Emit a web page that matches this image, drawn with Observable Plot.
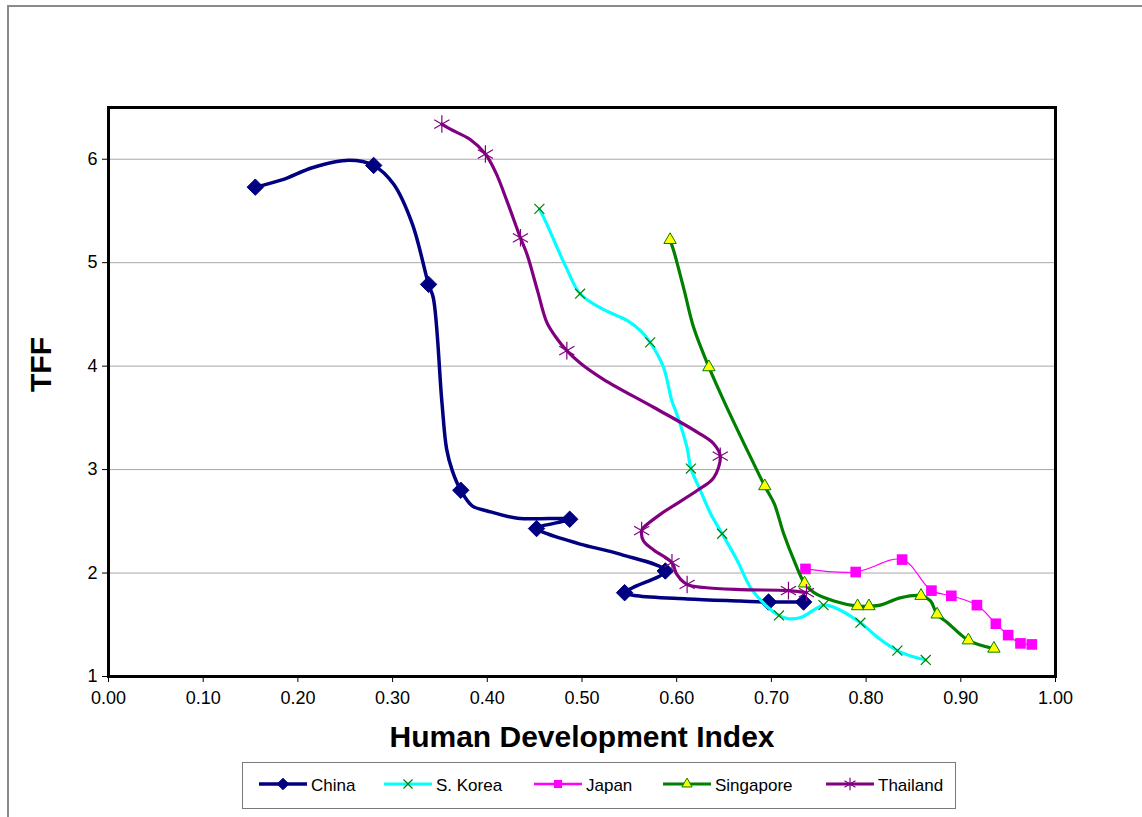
<!DOCTYPE html>
<html>
<head>
<meta charset="utf-8">
<script src="https://cdn.jsdelivr.net/npm/d3@7"></script>
<script src="https://cdn.jsdelivr.net/npm/@observablehq/plot@0.6"></script>
<style>
  html, body { margin: 0; padding: 0; background: #fff; }
  #wrap { position: relative; width: 1142px; height: 817px; overflow: hidden; font-family: "Liberation Sans", Arial, sans-serif; }
  #border { position: absolute; left: 7px; top: 5px; width: 1200px; height: 900px; border-top: 2px solid #8a8a8a; border-left: 2px solid #8a8a8a; }
  #chart { position: absolute; left: 0; top: 0; }
  #legend { position: absolute; left: 242px; top: 762px; width: 712px; height: 45px; border: 1px solid #7a7a7a; background: #fff; }
</style>
</head>
<body>
<div id="wrap">
  <div id="border"></div>
  <div id="chart"></div>
  <div id="legend"></div>
</div>
<script>
// ---- Data ----
const seriesNames = ["China", "S. Korea", "Japan", "Singapore", "Thailand"];
const xTicks = [0, 0.1, 0.2, 0.3, 0.4, 0.5, 0.6, 0.7, 0.8, 0.9, 1.0];
const yTicks = [1, 2, 3, 4, 5, 6];
const xTitle = "Human Development Index";
const yTitle = "TFF";

const chinaHDI = [0.155,0.183,0.216,0.254,0.280,0.301,0.321,0.338,0.343,0.352,0.357,0.363,0.372,0.384,0.400,0.432,0.487,0.452,0.463,0.498,0.541,0.588,0.554,0.545,0.558,0.611,0.667,0.697,0.734];
const chinaTFF = [5.73,5.80,5.92,5.99,5.94,5.76,5.37,4.79,4.66,3.66,3.20,2.99,2.80,2.65,2.60,2.53,2.52,2.43,2.38,2.28,2.18,2.02,1.86,1.81,1.78,1.75,1.73,1.72,1.72];
const chinaMark = [1,0,0,0,1,0,0,1,0,0,0,0,1,0,0,0,1,1,0,0,0,1,0,1,0,0,0,1,1];

const koreaHDI = [0.455,0.463,0.474,0.484,0.498,0.520,0.548,0.562,0.572,0.586,0.595,0.600,0.611,0.615,0.625,0.636,0.648,0.664,0.678,0.696,0.708,0.717,0.731,0.755,0.766,0.794,0.812,0.833,0.850,0.863];
const koreaTFF = [5.52,5.37,5.14,4.94,4.70,4.56,4.44,4.34,4.23,3.99,3.66,3.54,3.21,3.01,2.80,2.57,2.38,2.12,1.86,1.67,1.59,1.56,1.57,1.69,1.67,1.52,1.38,1.25,1.19,1.16];
const koreaMark = [1,0,0,0,1,0,0,0,1,0,0,0,0,1,0,0,1,0,0,0,1,0,0,1,0,1,0,1,0,1];

const japanHDI = [0.736,0.789,0.838,0.869,0.890,0.917,0.937,0.950,0.963,0.975];
const japanTFF = [2.04,2.01,2.13,1.83,1.78,1.69,1.51,1.40,1.32,1.31];
const japanMark = [1,1,1,1,1,1,1,1,1,1];

const singaporeHDI = [0.593,0.597,0.608,0.618,0.634,0.650,0.678,0.693,0.703,0.713,0.724,0.735,0.745,0.766,0.791,0.803,0.815,0.836,0.858,0.868,0.875,0.886,0.908,0.935];
const singaporeTFF = [5.22,5.11,4.73,4.37,3.99,3.66,3.12,2.84,2.67,2.38,2.12,1.90,1.81,1.73,1.68,1.68,1.69,1.76,1.78,1.73,1.60,1.52,1.35,1.27];
const singaporeMark = [1,0,0,0,1,0,0,1,0,0,0,1,0,0,1,1,0,0,1,0,1,0,1,1];

const thailandHDI = [0.352,0.361,0.382,0.398,0.409,0.421,0.435,0.442,0.453,0.463,0.474,0.484,0.498,0.523,0.576,0.622,0.639,0.646,0.639,0.622,0.583,0.565,0.563,0.565,0.576,0.595,0.600,0.611,0.629,0.667,0.718,0.737];
const thailandTFF = [6.34,6.29,6.19,6.05,5.87,5.59,5.24,5.08,4.73,4.42,4.26,4.15,4.03,3.87,3.60,3.36,3.25,3.13,2.92,2.80,2.57,2.44,2.41,2.31,2.22,2.10,1.99,1.89,1.86,1.84,1.83,1.81];
const thailandMark = [1,0,0,1,0,0,1,0,0,0,0,1,0,0,0,0,0,1,0,0,0,0,1,0,0,1,0,1,0,0,1,1];

// ---- Styles ----
const styles = {
  "China":     {line: "#000080", lw: 3.5, symbol: "diamond2", r: 7.4, fill: "#000080", stroke: "#000080", sw: 1, lr: 5.2},
  "S. Korea":  {line: "#00FFFF", lw: 3.2, symbol: "times",    r: 4.6, fill: "none",    stroke: "#008000", sw: 1.2, lr: 4.2},
  "Japan":     {line: "#FF00FF", lw: 1.2, symbol: "square",   r: 6.0, fill: "#FF00FF", stroke: "none",    sw: 0, lr: 4.6},
  "Singapore": {line: "#008000", lw: 3.2, symbol: "triangle", r: 4.6, fill: "#FFFF00", stroke: "#008000", sw: 1, lr: 3.8},
  "Thailand":  {line: "#800080", lw: 3.2, symbol: "asterisk", r: 8.3, fill: "none",    stroke: "#800080", sw: 1.2, lr: 6}
};

const build = (name, hdi, tff, mark) => hdi.map((h, i) => ({series: name, hdi: h, tff: tff[i], mark: mark[i] === 1}));
const series = [
  build("China", chinaHDI, chinaTFF, chinaMark),
  build("S. Korea", koreaHDI, koreaTFF, koreaMark),
  build("Japan", japanHDI, japanTFF, japanMark),
  build("Singapore", singaporeHDI, singaporeTFF, singaporeMark),
  build("Thailand", thailandHDI, thailandTFF, thailandMark)
];

const marks = [
  Plot.gridY(yTicks.slice(1), {stroke: "#a8a8a8", strokeOpacity: 1, strokeWidth: 1}),
  Plot.axisX(xTicks, {tickFormat: d3.format(".2f"), tickSize: 6, tickPadding: 9, fontSize: 18, label: null, stroke: "#000"}),
  Plot.axisY(yTicks, {tickFormat: d3.format("d"), tickSize: 6, tickPadding: 5, fontSize: 18, label: null, stroke: "#000"})
];
series.forEach(rows => {
  const s = styles[rows[0].series];
  marks.push(Plot.line(rows, {x: "hdi", y: "tff", stroke: s.line, strokeWidth: s.lw, curve: "catmull-rom", strokeLinejoin: "round"}));
  marks.push(Plot.dot(rows.filter(d => d.mark), {x: "hdi", y: "tff", symbol: s.symbol, r: s.r, fill: s.fill, stroke: s.stroke, strokeWidth: s.sw}));
});
marks.push(Plot.frame({stroke: "#000", strokeWidth: 3}));
marks.push(Plot.text([xTitle], {text: d => d, frameAnchor: "bottom", dy: 70, fontSize: 30, fontWeight: "bold", fill: "#000"}));
marks.push(Plot.text([yTitle], {text: d => d, frameAnchor: "left", dx: -67, rotate: -90, fontSize: 30, fontWeight: "bold", fill: "#000"}));

const chart = Plot.plot({
  width: 1142,
  height: 817,
  marginLeft: 108,
  marginRight: 87,
  marginTop: 107,
  marginBottom: 141,
  style: {fontFamily: "'Liberation Sans', Arial, sans-serif", fontSize: "18px", color: "#000", background: "transparent", overflow: "visible"},
  x: {domain: [0, 1]},
  y: {domain: [1, 6.5]},
  marks
});
document.getElementById("chart").appendChild(chart);

// ---- Legend ----
const legendX = [16, 141, 291, 420, 583];
const lg = d3.select("#legend").append("svg").attr("width", 712).attr("height", 45);
const symMap = {diamond2: d3.symbolDiamond2, times: d3.symbolTimes, square: d3.symbolSquare, triangle: d3.symbolTriangle, asterisk: d3.symbolAsterisk};
seriesNames.forEach((name, i) => {
  const s = styles[name];
  const g = lg.append("g").attr("transform", `translate(${legendX[i]},21)`);
  g.append("line").attr("x1", 0).attr("x2", 48).attr("y1", 0).attr("y2", 0)
    .attr("stroke", s.line).attr("stroke-width", Math.max(s.lw, 2.6));
  g.append("path").attr("transform", "translate(24,0)")
    .attr("d", d3.symbol(symMap[s.symbol], Math.PI * s.lr * s.lr)())
    .attr("fill", s.fill).attr("stroke", s.stroke).attr("stroke-width", s.sw);
  g.append("text").attr("x", 52).attr("y", 6.5).text(name)
    .attr("font-family", "'Liberation Sans', Arial, sans-serif").attr("font-size", 17).attr("fill", "#000");
});
</script>
</body>
</html>
